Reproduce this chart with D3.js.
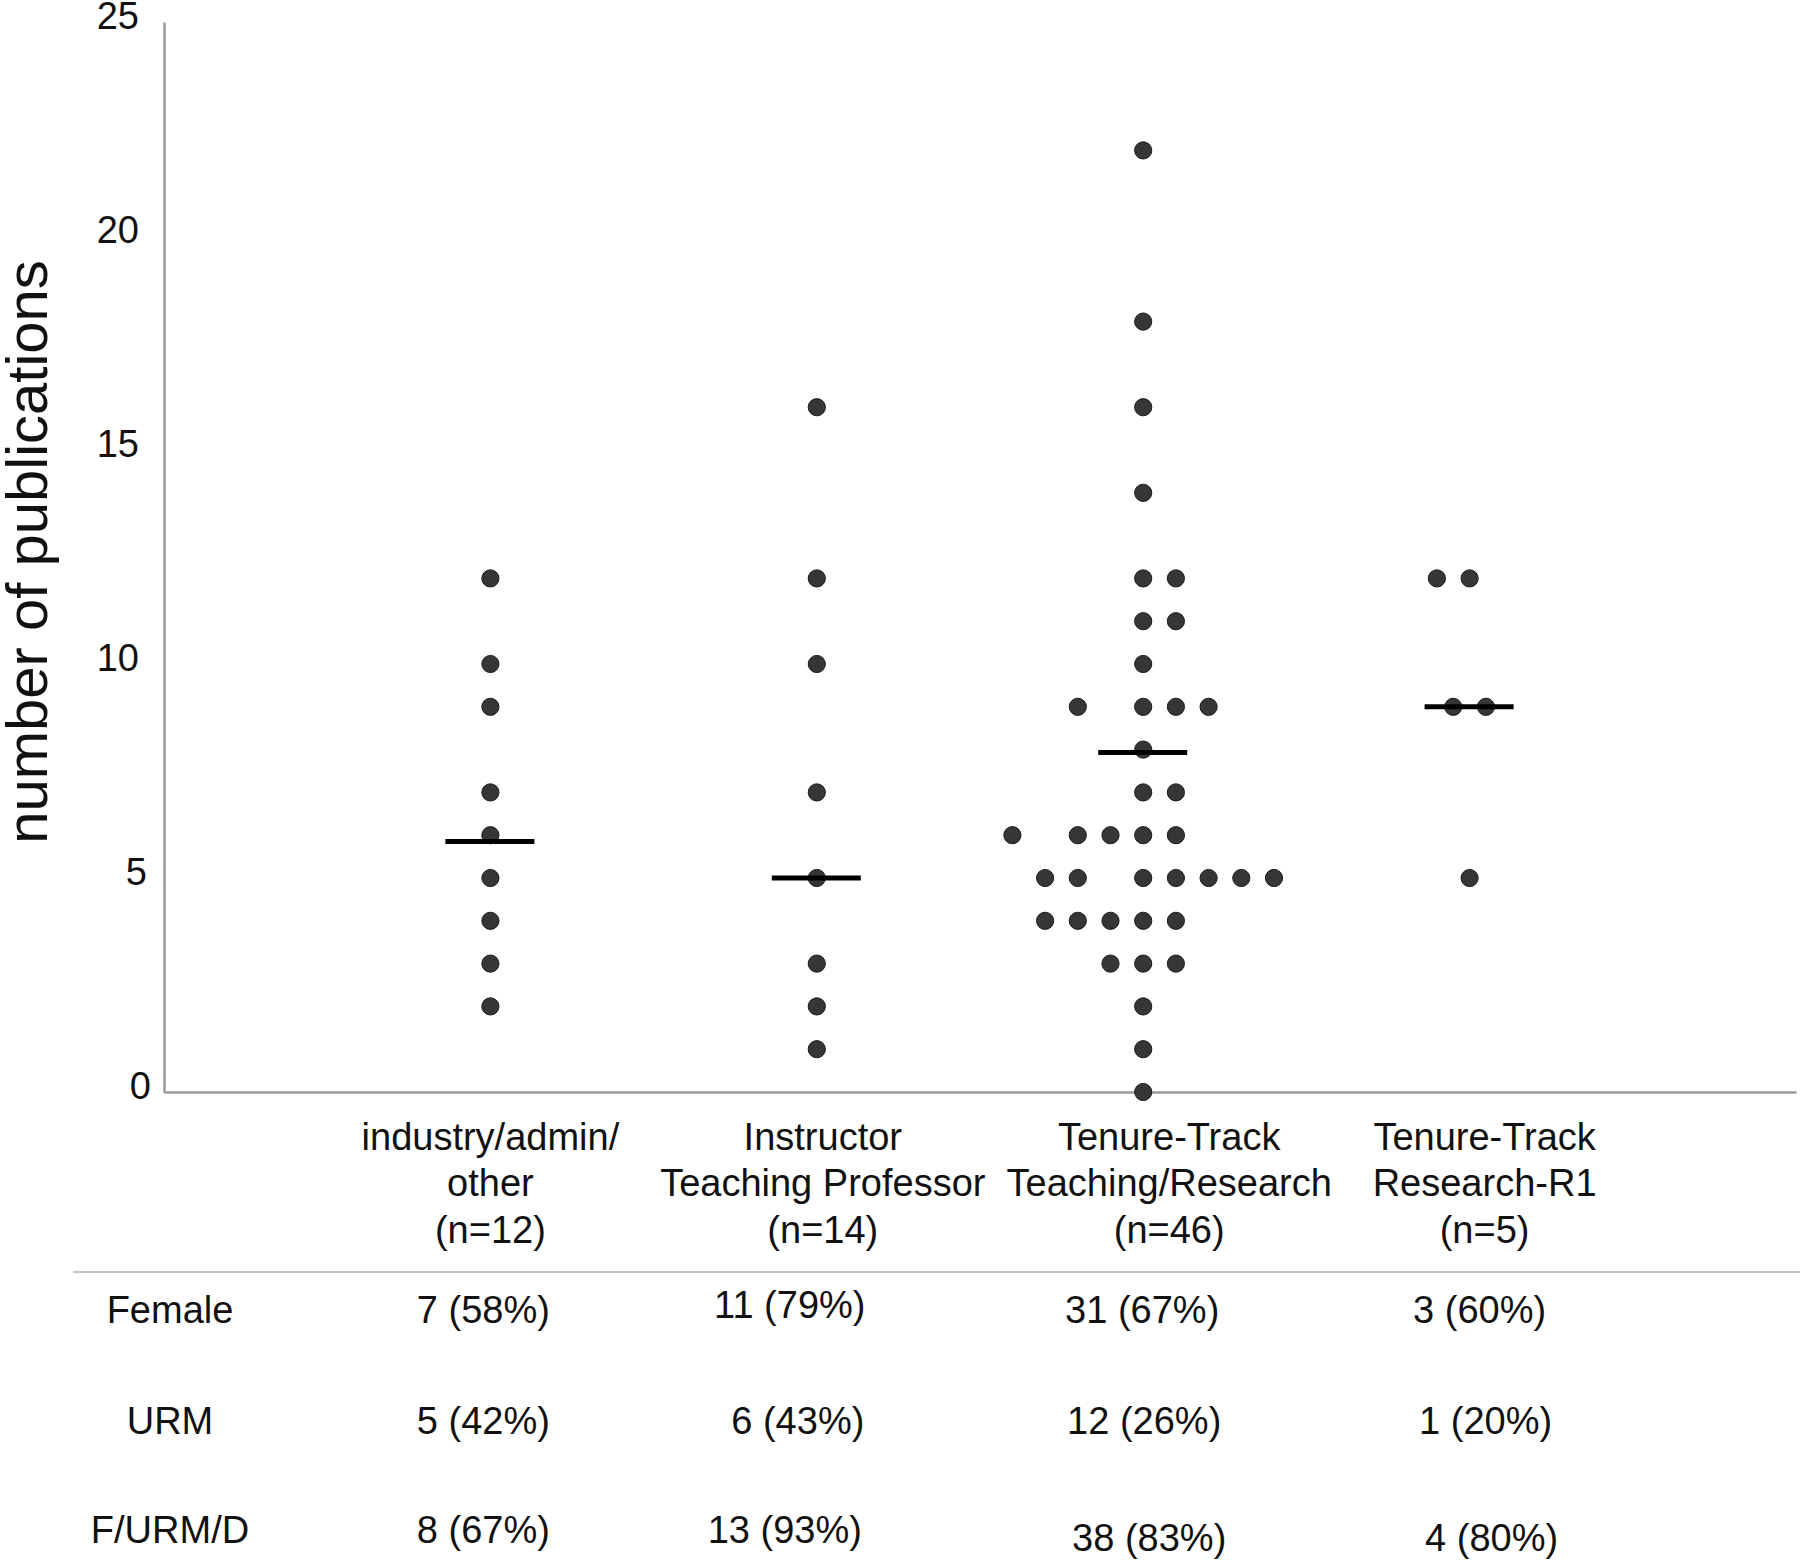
<!DOCTYPE html>
<html>
<head>
<meta charset="utf-8">
<script src="https://cdn.jsdelivr.net/npm/d3@7"></script>
<style>
  html, body { margin: 0; padding: 0; background: #fff; }
  svg { display: block; }
  text { font-family: "Liberation Sans", Arial, Helvetica, sans-serif; fill: #111; }
</style>
</head>
<body>
<svg id="chart" width="1800" height="1561"></svg>
<script>
// ---------------- DATA ----------------
const categories = ["industry/admin/other", "Instructor Teaching Professor", "Tenure-Track Teaching/Research", "Tenure-Track Research-R1"];
const categoryLabelLines = [
  ["industry/admin/", "other", "(n=12)"],
  ["Instructor", "Teaching Professor", "(n=14)"],
  ["Tenure-Track", "Teaching/Research", "(n=46)"],
  ["Tenure-Track", "Research-R1", "(n=5)"]
];
// publication counts of plotted dots, per category
const valuesIndustry   = [12, 10, 9, 7, 6, 5, 4, 3, 2];
const valuesInstructor = [16, 12, 10, 7, 5, 3, 2, 1];
const valuesTTTeaching = [22, 18, 16, 14, 12, 12, 11, 11, 10, 9, 9, 9, 9, 8, 7, 7,
                          6, 6, 6, 6, 6, 5, 5, 5, 5, 5, 5, 5, 4, 4, 4, 4, 4, 3, 3, 3, 2, 1, 0];
const valuesTTResearch = [12, 12, 9, 9, 5];
// mean lines
const meanValues = [5.85, 5.0, 7.93, 9.0];
// y-axis ticks
const yTicks = [0, 5, 10, 15, 20, 25];
const yTitle = "number of publications";
// demographic table
const tableRowLabels = ["Female", "URM", "F/URM/D"];
const tableFemale = ["7 (58%)", "11 (79%)", "31 (67%)", "3 (60%)"];
const tableURM    = ["5 (42%)", "6 (43%)", "12 (26%)", "1 (20%)"];
const tableFURMD  = ["8 (67%)", "13 (93%)", "38 (83%)", "4 (80%)"];

// ---------------- LAYOUT (dot slots in the swarm, in dot-widths) ----------------
const slotsIndustry   = valuesIndustry.map(() => 0);
const slotsInstructor = valuesInstructor.map(() => 0);
const slotsTTTeaching = [0, 0, 0, 0, 0, 1, 0, 1, 0, -2, 0, 1, 2, 0, 0, 1,
                         -4, -2, -1, 0, 1, -3, -2, 0, 1, 2, 3, 4, -3, -2, -1, 0, 1, -1, 0, 1, 0, 0, 0];
const slotsTTResearch = [-1, 0, -0.5, 0.5, 0];

const allValues = [valuesIndustry, valuesInstructor, valuesTTTeaching, valuesTTResearch];
const allSlots  = [slotsIndustry, slotsInstructor, slotsTTTeaching, slotsTTResearch];

const svg = d3.select("#chart");

const x = d3.scalePoint().domain(categories).range([164, 1796]).padding(1);
const y = d3.scaleLinear().domain([0, 25]).range([1092, 22]);

const dotStep = 32.7, dotR = 8.6;

// y axis
const yAxis = svg.append("g").attr("transform", "translate(164,0)")
  .call(d3.axisLeft(y).tickValues(yTicks).tickSize(0).tickPadding(25));
yAxis.select(".domain").attr("stroke", "#9a9a9a").attr("stroke-width", 2.5);
const tickNudge = {0: 12, 5: 8};
yAxis.selectAll(".tick text")
  .attr("font-size", 38)
  .attr("fill", "#111")
  .attr("font-family", "Liberation Sans, Arial, sans-serif")
  .attr("dy", 6)
  .attr("x", d => -25 + (tickNudge[d] || 0));

// x axis (baseline)
const xAxis = svg.append("g").attr("transform", `translate(0,${y(0)})`)
  .call(d3.axisBottom(x).tickSize(0).tickFormat(""));
xAxis.select(".domain").attr("stroke", "#9a9a9a").attr("stroke-width", 2.5);

// y title
svg.append("text")
  .attr("transform", `translate(26,${(y(0) + y(25)) / 2 - 5}) rotate(-90)`)
  .attr("text-anchor", "middle")
  .attr("dominant-baseline", "central")
  .attr("font-size", 58)
  .text(yTitle);

// dots
const points = [];
allValues.forEach((vals, ci) => {
  vals.forEach((v, i) => points.push({cat: categories[ci], v, slot: allSlots[ci][i]}));
});
svg.append("g").selectAll("circle").data(points).join("circle")
  .attr("cx", d => x(d.cat) + d.slot * dotStep)
  .attr("cy", d => y(d.v))
  .attr("r", dotR)
  .attr("fill", "#363636")
  .attr("stroke", "#1c1c1c")
  .attr("stroke-width", 1);

// mean lines
svg.append("g").selectAll("line").data(meanValues).join("line")
  .attr("x1", (d, i) => x(categories[i]) - 45)
  .attr("x2", (d, i) => x(categories[i]) + 44)
  .attr("y1", d => y(d))
  .attr("y2", d => y(d))
  .attr("stroke", "#000")
  .attr("stroke-width", 5);

// category labels
const labelShift = [0, 6, 26, 15];
const labelBaselines = [1150, 1196, 1243];
categoryLabelLines.forEach((lines, ci) => {
  const t = svg.append("text")
    .attr("text-anchor", "middle")
    .attr("font-size", 38);
  lines.forEach((ln, li) => {
    t.append("tspan")
      .attr("x", x(categories[ci]) + labelShift[ci])
      .attr("y", labelBaselines[li])
      .text(ln);
  });
});

// separator line
svg.append("line")
  .attr("x1", 73).attr("x2", 1800)
  .attr("y1", 1272).attr("y2", 1272)
  .attr("stroke", "#c4c4c4").attr("stroke-width", 2);

// table
const tableRows = [tableFemale, tableURM, tableFURMD];
const rowCenters = [1310, 1421, 1530];
const cellDx = [[-7, -27, -1, 10], [-7, -19, 1, 16], [-7, -32, 6, 22]];
const cellDy = [[0, -5, 0, 0], [0, 0, 0, 0], [0, 0, 8, 8]];
tableRowLabels.forEach((lab, ri) => {
  svg.append("text")
    .attr("x", 170).attr("y", rowCenters[ri] + 13)
    .attr("text-anchor", "middle")
    .attr("font-size", 38)
    .text(lab);
  svg.append("g").selectAll("text").data(tableRows[ri]).join("text")
    .attr("x", (d, ci) => x(categories[ci]) + cellDx[ri][ci])
    .attr("y", (d, ci) => rowCenters[ri] + 13 + cellDy[ri][ci])
    .attr("text-anchor", "middle")
    .attr("font-size", 38)
    .text(d => d);
});
</script>
</body>
</html>
